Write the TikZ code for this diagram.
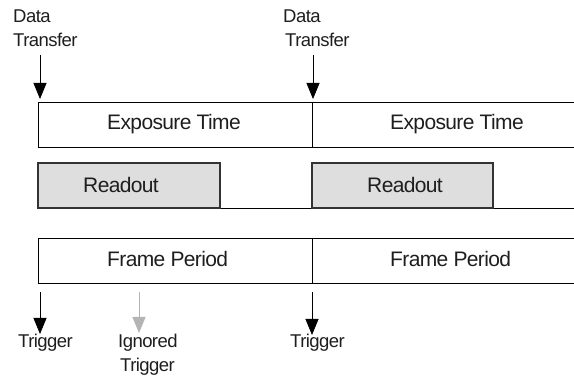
\documentclass[tikz,border=0pt]{standalone}
\usepackage{fontspec}
\setmainfont{Liberation Sans}
\newfontfamily\tightsans[LetterSpace=-3]{Liberation Sans}
\usetikzlibrary{arrows.meta}
\definecolor{ink}{HTML}{1E1E1E}
\definecolor{readfill}{HTML}{DEDEDE}
\definecolor{readedge}{HTML}{333333}
\definecolor{ignored}{HTML}{B4B4B4}
\tikzset{
  x=1pt, y=-1pt,
  frame/.style={draw=black, line width=0.8pt},
  readbox/.style={draw=readedge, fill=readfill, line width=1.3pt},
  boxtext/.style={anchor=base west, inner sep=0pt, text=ink,
    font=\tightsans\fontsize{21}{25}\selectfont},
  labeltext/.style={anchor=base west, inner sep=0pt, text=ink,
    font=\tightsans\fontsize{18.5}{22}\selectfont},
  signal/.style={draw=black, line width=0.8pt,
    -{Triangle[width=13pt,length=16pt]}},
  ignoredsignal/.style={draw=ignored, line width=0.8pt,
    -{Triangle[width=13pt,length=16pt]}},
}
\begin{document}
\begin{tikzpicture}
\useasboundingbox (0,0) rectangle (574,377);

% exposure row
\draw[frame] (574,102) -- (38,102) -- (38,147) -- (574,147);
\draw[frame] (312,102) -- (312,147);
\node[boxtext] (exp1) at (107,130) {Exposure Time};
\node[boxtext] (exp2) at (390,130) {Exposure Time};

% readout row
\draw[frame] (220,208) -- (312,208);
\draw[frame] (493,208) -- (574,208);
\draw[readbox] (38,163) rectangle (220,208);
\draw[readbox] (312,163) rectangle (493,208);
\node[boxtext] (rd1) at (83,193) {Readout};
\node[boxtext] (rd2) at (367,193) {Readout};

% frame period row
\draw[frame] (574,238) -- (38,238) -- (38,283) -- (574,283);
\draw[frame] (312,238) -- (312,283);
\node[boxtext] (fp1) at (107,267) {Frame Period};
\node[boxtext] (fp2) at (390,267) {Frame Period};

% data transfer markers
\node[labeltext] (dt1a) at (13,23) {Data};
\node[labeltext] (dt1b) at (13,47) {Transfer};
\node[labeltext] (dt2a) at (283,23) {Data};
\node[labeltext] (dt2b) at (285,47) {Transfer};
\coordinate (dt1s) at (40,55);
\coordinate (dt1e) at (40,99);
\coordinate (dt2s) at (313,55);
\coordinate (dt2e) at (313,99);
\draw[signal] (dt1s) -- (dt1e);
\draw[signal] (dt2s) -- (dt2e);

% trigger markers
\node[labeltext] (tr1) at (18,348) {Trigger};
\node[labeltext] (ig1) at (118,348) {Ignored};
\node[labeltext] (ig2) at (120,371) {Trigger};
\node[labeltext] (tr2) at (290,348) {Trigger};
\coordinate (tr1s) at (40,292);
\coordinate (tr1e) at (40,334);
\coordinate (igs) at (139,292);
\coordinate (ige) at (139,333);
\coordinate (tr2s) at (312,292);
\coordinate (tr2e) at (312,335);
\draw[signal] (tr1s) -- (tr1e);
\draw[ignoredsignal] (igs) -- (ige);
\draw[signal] (tr2s) -- (tr2e);
\end{tikzpicture}
\end{document}
